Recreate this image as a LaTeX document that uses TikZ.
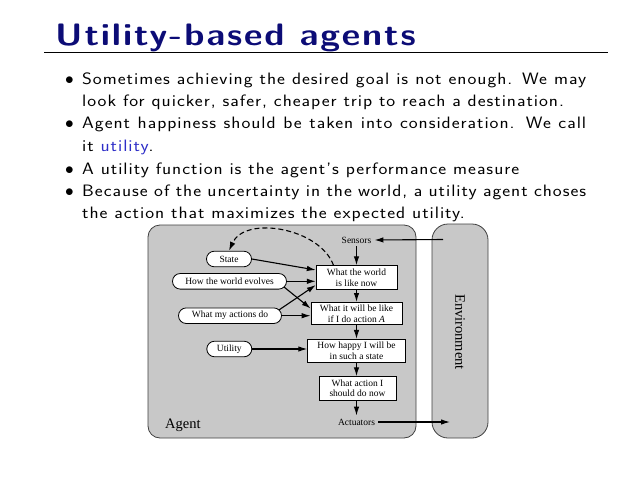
\documentclass[tikz,border=0pt]{standalone}
\usepackage{fontspec}
\setmainfont{Liberation Serif}
\usetikzlibrary{arrows.meta}
\definecolor{titleblue}{RGB}{12,12,118}
\definecolor{utilblue}{RGB}{45,45,200}
\definecolor{boxgray}{RGB}{200,200,200}
\newfontfamily\slidesans[FakeStretch=1.14,LetterSpace=6]{Latin Modern Sans}
\newfontfamily\titlesans[FakeStretch=1.16,LetterSpace=6]{Latin Modern Sans}
\tikzset{
  slidetext/.style={anchor=base west, inner sep=0pt, text width=504pt, align=justify,
    font=\slidesans\fontsize{16.5}{22.3}\selectfont},
  bulletdot/.style={anchor=base, inner sep=0pt, font=\fontsize{16.5}{22.3}\selectfont},
  region/.style={draw=black!75, line width=0.8pt, fill=boxgray},
  pill/.style={draw=black, line width=0.8pt, fill=white, rounded corners=7.8pt,
    minimum height=15.6pt, inner sep=0pt, font=\fontsize{9.5}{10.5}\selectfont},
  stepbox/.style={draw=black, line width=0.7pt, fill=white, inner sep=0pt, align=center,
    font=\fontsize{9.5}{10.5}\selectfont},
  plain/.style={inner sep=3pt, font=\fontsize{9.5}{10.5}\selectfont},
  arr/.style={line width=1.1pt, -{Latex[length=9pt,width=5.5pt]}},
}
\begin{document}
\begin{tikzpicture}[x=1pt,y=-1pt]
\useasboundingbox (0,0) rectangle (638,493);
\fill[white] (0,0) rectangle (638,493);
% title
\node[anchor=base west, inner sep=0pt, text=titleblue,
  font=\titlesans\bfseries\fontsize{31}{36}\selectfont] (title) at (55,45) {Utility-based agents};
\coordinate (ruleL) at (44,52.3);
\coordinate (ruleR) at (608,52.3);
\draw[line width=1pt] (ruleL) -- (ruleR);
% bullets
\node[bulletdot] (d1) at (69.5,84.5) {$\bullet$};
\node[slidetext] (b1) at (82,84.5) {Sometimes achieving the desired goal is not enough. We may\linebreak look for quicker, safer, cheaper trip to reach a destination.};
\node[bulletdot] (d2) at (69.5,128.7) {$\bullet$};
\node[slidetext] (b2) at (82,128.7) {Agent happiness should be taken into consideration. We call\linebreak it \textcolor{utilblue}{utility}.};
\node[bulletdot] (d3) at (69.5,174.5) {$\bullet$};
\node[slidetext] (b3) at (82,174.5) {A utility function is the agent’s performance measure};
\node[bulletdot] (d4) at (69.5,196.6) {$\bullet$};
\node[slidetext] (b4) at (82,196.6) {Because of the uncertainty in the world, a utility agent choses\linebreak the action that maximizes the expected utility.};
% regions
\draw[region, rounded corners=12pt] (148,225) rectangle (416,438);
\draw[region, rounded corners=16pt] (432,224) rectangle (488,438);
\node[anchor=base west, inner sep=0pt, font=\fontsize{14.5}{16}\selectfont] (agentlbl) at (165,428) {Agent};
\node[rotate=-90, inner sep=0pt, font=\fontsize{14.5}{16}\selectfont] (envlbl) at (460,332) {Environment};
% left nodes
\node[pill, minimum width=45pt] (state) at (229,259) {State};
\node[pill, minimum width=114pt] (evolves) at (229.5,281.3) {How the world evolves};
\node[pill, minimum width=103pt] (actions) at (230,315.7) {What my actions do};
\node[pill, minimum width=45pt] (utility) at (229.3,349) {Utility};
% right column
\node[plain] (sensors) at (356.5,240) {Sensors};
\node[stepbox, minimum width=80.7pt, minimum height=23.7pt] (box1) at (356.5,277.5) {What the world\\is like now};
\node[stepbox, minimum width=91pt, minimum height=22.3pt] (box2) at (356.5,313.5) {What it will be like\\if I do action \textit{A}};
\node[stepbox, minimum width=97.7pt, minimum height=23pt] (box3) at (356.5,350.8) {How happy I will be\\in such a state};
\node[stepbox, minimum width=76.7pt, minimum height=23.3pt] (box4) at (357.5,388.3) {What action I\\should do now};
\node[plain] (actuators) at (356.5,422) {Actuators};
\coordinate (envS) at (443,239.5);
\coordinate (envA) at (450,422);
% connectors
\draw[arr] (envS) -- (sensors.east);
\draw[arr] (sensors) -- (box1);
\draw[arr] (box1) -- (box2);
\draw[arr] (box2) -- (box3);
\draw[arr] (box3.south) -- (box3.south |- box4.north);
\draw[arr] (box4.south -| box3.south) -- (actuators);
\draw[arr] (actuators.east) -- (envA);
\draw[arr] (state.east) -- ([yshift=7.5pt]box1.west);
\draw[arr] (evolves.east) -- (evolves.east -| box1.west);
\draw[arr] ([xshift=-3pt,yshift=2.6pt]evolves.south east) -- ([yshift=5pt]box2.west);
\draw[arr] ([xshift=-3pt,yshift=-2.5pt]actions.north east) -- ([yshift=-7.5pt]box1.west);
\draw[arr] (actions.east) -- (actions.east -| box2.west);
\draw[arr] (utility.east) -- (utility.east -| box3.west);
\draw[arr, dash pattern=on 5pt off 3pt] ([xshift=-23pt]box1.north) .. controls (320,228) and (245,215) .. (state.north);
\end{tikzpicture}
\end{document}
